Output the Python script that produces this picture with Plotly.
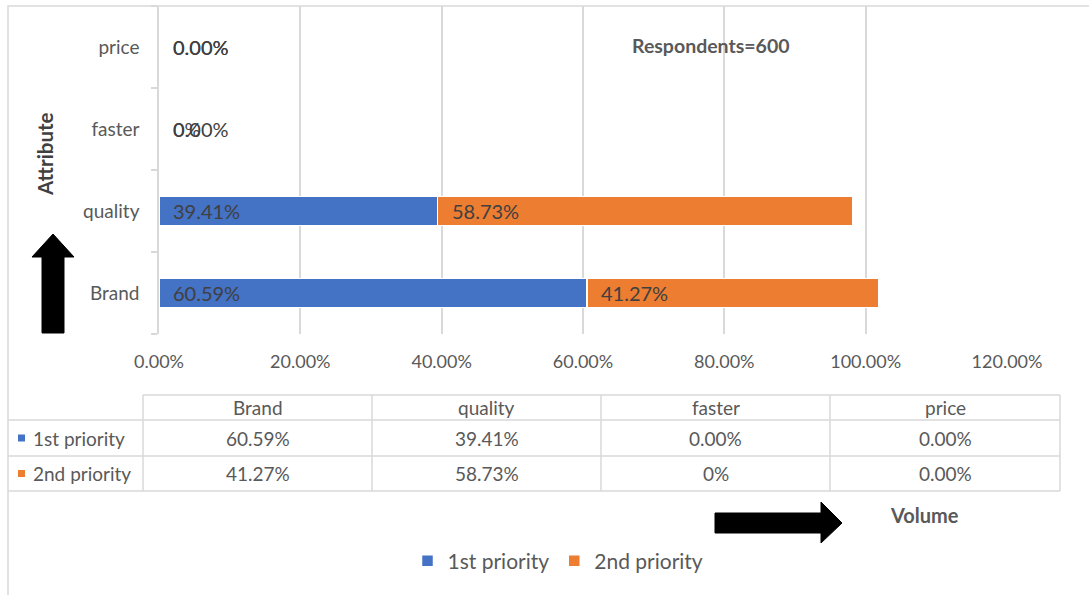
import plotly.graph_objects as go

# ── Data ────────────────────────────────────────────────────────────
categories = ["Brand", "quality", "faster", "price"]
first_priority = [0.6059, 0.3941, 0.0, 0.0]
second_priority = [0.4127, 0.5873, 0.0, 0.0]
first_labels = ["60.59%", "39.41%", "0.00%", "0.00%"]
second_labels = ["41.27%", "58.73%", "0%", "0.00%"]
series_names = ["1st priority", "2nd priority"]
x_ticks = [0, 0.2, 0.4, 0.6, 0.8, 1.0, 1.2]

# ── Style ───────────────────────────────────────────────────────────
W, H = 1089, 595
BLUE = "#4472C4"
ORANGE = "#ED7D31"
GRID = "#D9D9D9"
TEXT = "#595959"
FONT = "Lato, 'Open Sans', sans-serif"


def fx(px):
    return px / W


def fy(py):
    return 1 - py / H


def note(xp, yp, text, size, color=TEXT, **kw):
    """Paper-positioned text, given in pixel coords from top-left."""
    d = dict(x=fx(xp), y=fy(yp), xref="paper", yref="paper", text=text, showarrow=False,
             xanchor="center", yanchor="middle", font=dict(size=size, color=color, family=FONT))
    d.update(kw)
    return d


fig = go.Figure()
fig.add_trace(go.Bar(
    y=categories, x=first_priority, orientation="h", name=series_names[0],
    marker=dict(color=BLUE, line=dict(color="white", width=1.5)),
))
fig.add_trace(go.Bar(
    y=categories, x=second_priority, orientation="h", name=series_names[1],
    marker=dict(color=ORANGE, line=dict(color="white", width=1.5)),
))

annotations = []
# data labels, placed at the start of each segment
for cat, v1, l1, l2 in zip(categories, first_priority, first_labels, second_labels):
    for base, lab in ((0, l1), (v1, l2)):
        annotations.append(dict(
            x=base, y=cat, xref="x", yref="y", text=lab, showarrow=False,
            xanchor="left", yanchor="middle", xshift=12,
            font=dict(size=20, color="#404040", family=FONT),
        ))

annotations += [
    note(711, 46, "<b>Respondents=600</b>", 19.5),
    note(924, 515, "<b>Volume</b>", 20),
    note(45, 154, "<b>Attribute</b>", 20.5, color="#404040", textangle=-90),
]

# ── Data table below the chart ──────────────────────────────────────
col_edges = [143, 372, 601, 830, 1060]
row_edges = [395, 420, 456, 491]
shapes = [
    # chart border
    dict(type="rect", xref="paper", yref="paper", x0=fx(8), x1=1.02, y0=-0.02, y1=fy(6),
         line=dict(color=GRID, width=1.5), layer="below"),
    dict(type="line", xref="paper", yref="paper", x0=fx(col_edges[0]), x1=fx(col_edges[-1]),
         y0=fy(row_edges[0]), y1=fy(row_edges[0]), line=dict(color=GRID, width=1.5)),
]
for r in row_edges[1:]:
    shapes.append(dict(type="line", xref="paper", yref="paper", x0=fx(8), x1=fx(col_edges[-1]),
                       y0=fy(r), y1=fy(r), line=dict(color=GRID, width=1.5)))
for c in col_edges:
    shapes.append(dict(type="line", xref="paper", yref="paper", x0=fx(c), x1=fx(c),
                       y0=fy(row_edges[0]), y1=fy(row_edges[-1]), line=dict(color=GRID, width=1.5)))

row_centers = [(row_edges[i] + row_edges[i + 1]) / 2 for i in range(3)]
col_centers = [(col_edges[i] + col_edges[i + 1]) / 2 for i in range(4)]
for j, cat in enumerate(categories):
    annotations.append(note(col_centers[j], row_centers[0], cat, 19))
    annotations.append(note(col_centers[j], row_centers[1], first_labels[j], 19))
    annotations.append(note(col_centers[j], row_centers[2], second_labels[j], 19))
for i, (name, col) in enumerate(zip(series_names, [BLUE, ORANGE])):
    yc = row_centers[i + 1]
    shapes.append(dict(type="rect", xref="paper", yref="paper", x0=fx(18), x1=fx(25),
                       y0=fy(yc + 3.5), y1=fy(yc - 3.5), fillcolor=col, line=dict(width=0)))
    annotations.append(note(31, yc, name, 19, xanchor="left"))


# ── Arrows ──────────────────────────────────────────────────────────
def path(pts):
    return "M " + " L ".join(f"{fx(x)},{fy(y)}" for x, y in pts) + " Z"


up = [(42, 333), (42, 257), (32, 257), (53, 234), (74, 257), (64, 257), (64, 333)]
right = [(715, 513), (821, 513), (821, 502), (842, 523), (821, 543), (821, 533), (715, 533)]
for pts in (up, right):
    shapes.append(dict(type="path", xref="paper", yref="paper", path=path(pts),
                       fillcolor="black", line=dict(color="black", width=1)))

fig.update_layout(
    width=W, height=H,
    margin=dict(l=0, r=0, t=0, b=0, autoexpand=False),
    paper_bgcolor="white", plot_bgcolor="white",
    barmode="stack", bargap=0.646,
    font=dict(family=FONT, color=TEXT),
    showlegend=True,
    legend=dict(orientation="h", x=fx(558), xanchor="center", y=fy(561), yanchor="middle",
                font=dict(size=21, color=TEXT, family=FONT), traceorder="normal"),
    xaxis=dict(
        domain=[fx(159), fx(1007)], range=[0, 1.2], tickvals=x_ticks, tickformat=".2%",
        showgrid=True, gridcolor=GRID, gridwidth=1.5, zeroline=False, showline=False,
        ticks="", ticklabelstandoff=15, tickfont=dict(size=18, color=TEXT, family=FONT),
        fixedrange=True,
    ),
    yaxis=dict(
        domain=[fy(334), fy(6)], range=[-0.5, 3.5], categoryorder="array", categoryarray=categories,
        showgrid=False, showline=True, linecolor=GRID, linewidth=1.5, zeroline=False,
        ticks="outside", tickson="boundaries", ticklen=6, tickcolor=GRID, tickwidth=1.5,
        ticklabelstandoff=14, tickfont=dict(size=19, color=TEXT, family=FONT),
    ),
    annotations=annotations,
    shapes=shapes,
)

# drop the browser's default 8px body margin so the figure sits at the page corner
fig.write_html("out.html", config={"displayModeBar": False},
               post_script="document.body.style.margin='0';")
